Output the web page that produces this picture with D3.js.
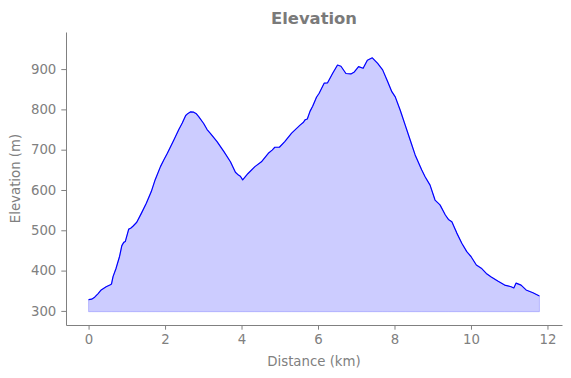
<!DOCTYPE html>
<html>
<head>
<meta charset="utf-8">
<script src="https://cdn.jsdelivr.net/npm/d3@7"></script>
<style>
  body { margin: 0; background: #fff; }
  svg { display: block; font-family: "DejaVu Sans", sans-serif; }
</style>
</head>
<body>
<div id="chart"></div>
<script>
// elevation profile
const distanceKm = [
  0.00, 0.08, 0.16, 0.25, 0.33, 0.46, 0.57, 0.60, 0.64, 0.72, 0.81, 0.87, 0.92, 0.96,
  1.05, 1.10, 1.16, 1.26, 1.38, 1.51, 1.64, 1.74, 1.88, 1.97, 2.06, 2.23, 2.36, 2.45,
  2.54, 2.60, 2.67, 2.75, 2.82, 2.88, 3.01, 3.10, 3.19, 3.36, 3.54, 3.71, 3.84, 3.92,
  3.97, 4.03, 4.10, 4.17, 4.35, 4.52, 4.70, 4.80, 4.87, 4.99, 5.13, 5.31, 5.53, 5.62,
  5.66, 5.72, 5.79, 5.86, 5.96, 6.03, 6.16, 6.25, 6.38, 6.51, 6.60, 6.73, 6.86, 6.95,
  7.06, 7.18, 7.29, 7.42, 7.56, 7.69, 7.82, 7.93, 8.02, 8.15, 8.28, 8.41, 8.54, 8.71,
  8.80, 8.93, 9.06, 9.19, 9.33, 9.41, 9.50, 9.63, 9.76, 9.89, 10.00, 10.14, 10.27,
  10.40, 10.53, 10.70, 10.88, 11.05, 11.12, 11.18, 11.31, 11.44, 11.62, 11.79
];
const elevationM = [
  328, 329, 334, 343, 352, 360, 365, 367, 385, 406, 435, 462, 470, 472,
  503, 505, 510, 520, 542, 567, 596, 625, 658, 675, 691, 724, 750, 766,
  785, 790, 794, 793, 789, 782, 765, 750, 740, 720, 695, 670, 644, 637,
  634, 625, 633, 641, 658, 670, 691, 699, 706, 706, 720, 741, 761, 768,
  774, 776, 795, 808, 830, 840, 865, 866, 889, 910, 907, 889, 888, 893,
  906, 902, 922, 928, 914, 898, 869, 844, 831, 798, 761, 724, 687, 650,
  633, 612, 575, 563, 538, 527, 521, 493, 468, 447, 435, 414, 406,
  393, 384, 374, 364, 360, 357, 369, 364, 352, 345, 337
];
const xTicks = [0, 2, 4, 6, 8, 10, 12];
const yTicks = [300, 400, 500, 600, 700, 800, 900];
const fillBase = 298;

const width = 571, height = 378;
const margin = { top: 32, right: 9, bottom: 53, left: 66 };
const grey = "#808080";

const data = distanceKm.map((d, i) => ({ d, e: elevationM[i] }));

const svg = d3.select("#chart").append("svg")
  .attr("width", width)
  .attr("height", height);

const x = d3.scaleLinear()
  .domain([-0.59, 12.38])
  .range([margin.left, width - margin.right]);

const y = d3.scaleLinear()
  .domain([265, 992])
  .range([height - margin.bottom, margin.top]);

// filled area under the profile
svg.append("path")
  .datum(data)
  .attr("d", d3.area().x(p => x(p.d)).y0(y(fillBase)).y1(p => y(p.e)))
  .attr("fill", "rgba(0,0,255,0.2)")
  .attr("stroke", "rgba(0,0,255,0.2)")
  .attr("stroke-width", 1);

svg.append("path")
  .datum(data)
  .attr("d", d3.line().x(p => x(p.d)).y(p => y(p.e)))
  .attr("fill", "none")
  .attr("stroke", "#0000ff")
  .attr("stroke-width", 1.2)
  .attr("stroke-linejoin", "round");

// axes
const xAxis = svg.append("g")
  .attr("transform", `translate(0,${height - margin.bottom})`)
  .call(d3.axisBottom(x).tickValues(xTicks).tickSize(4.7).tickPadding(5).tickSizeOuter(0));

const yAxis = svg.append("g")
  .attr("transform", `translate(${margin.left},0)`)
  .call(d3.axisLeft(y).tickValues(yTicks).tickSize(4.7).tickPadding(5).tickSizeOuter(0));

for (const ax of [xAxis, yAxis]) {
  ax.select(".domain").attr("stroke", grey).attr("stroke-width", 1);
  ax.selectAll(".tick line").attr("stroke", grey).attr("stroke-width", 1);
  ax.selectAll(".tick text")
    .attr("fill", grey)
    .attr("font-size", 13.3)
    .attr("font-family", "DejaVu Sans");
}

// labels
svg.append("text")
  .attr("x", (margin.left + width - margin.right) / 2)
  .attr("y", 365.5)
  .attr("text-anchor", "middle")
  .attr("font-size", 13.3)
  .attr("fill", grey)
  .text("Distance (km)");

svg.append("text")
  .attr("transform", `translate(20,${(margin.top + height - margin.bottom) / 2}) rotate(-90)`)
  .attr("text-anchor", "middle")
  .attr("font-size", 13.3)
  .attr("fill", grey)
  .text("Elevation (m)");

svg.append("text")
  .attr("x", (margin.left + width - margin.right) / 2)
  .attr("y", 24)
  .attr("text-anchor", "middle")
  .attr("font-size", 16.4)
  .attr("font-weight", "bold")
  .attr("fill", "#7a7a7a")
  .text("Elevation");
</script>
</body>
</html>
